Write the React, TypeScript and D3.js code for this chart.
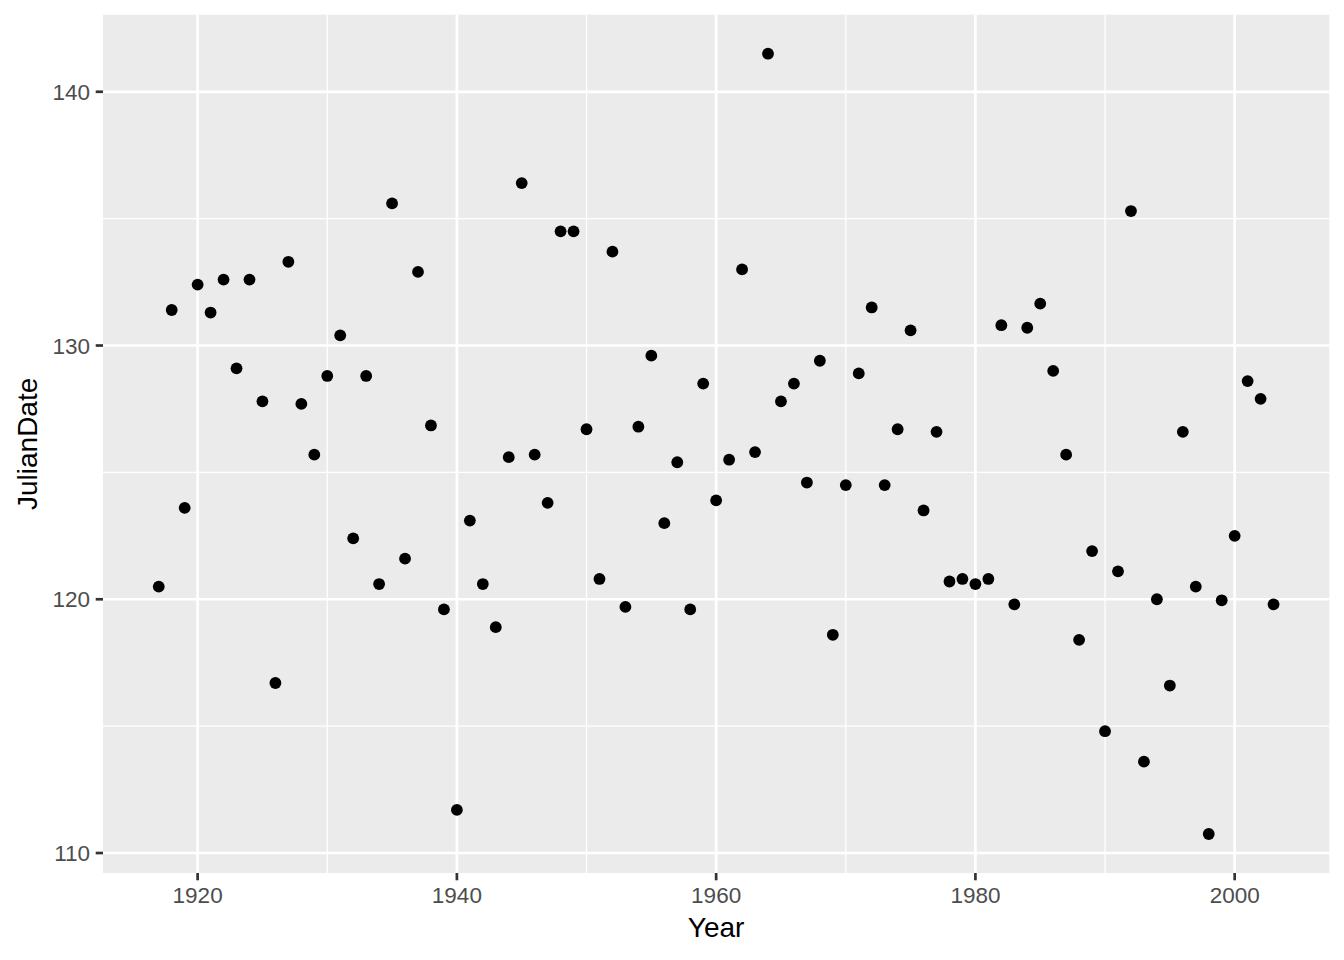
import React from "react";
import * as d3 from "d3";

const years: number[] = [
  1917, 1918, 1919, 1920, 1921, 1922, 1923, 1924, 1925, 1926, 1927, 1928, 1929, 1930,
  1931, 1932, 1933, 1934, 1935, 1936, 1937, 1938, 1939, 1940, 1941, 1942, 1943, 1944,
  1945, 1946, 1947, 1948, 1949, 1950, 1951, 1952, 1953, 1954, 1955, 1956, 1957, 1958,
  1959, 1960, 1961, 1962, 1963, 1964, 1965, 1966, 1967, 1968, 1969, 1970, 1971, 1972,
  1973, 1974, 1975, 1976, 1977, 1978, 1979, 1980, 1981, 1982, 1983, 1984, 1985, 1986,
  1987, 1988, 1989, 1990, 1991, 1992, 1993, 1994, 1995, 1996, 1997, 1998, 1999, 2000,
  2001, 2002, 2003,
];

const julianDates: number[] = [
  120.5, 131.4, 123.6, 132.4, 131.3, 132.6, 129.1, 132.6, 127.8, 116.7, 133.3, 127.7, 125.7, 128.8,
  130.4, 122.4, 128.8, 120.6, 135.6, 121.6, 132.9, 126.85, 119.6, 111.7, 123.1, 120.6, 118.9, 125.6,
  136.4, 125.7, 123.8, 134.5, 134.5, 126.7, 120.8, 133.7, 119.7, 126.8, 129.6, 123.0, 125.4, 119.6,
  128.5, 123.9, 125.5, 133.0, 125.8, 141.5, 127.8, 128.5, 124.6, 129.4, 118.6, 124.5, 128.9, 131.5,
  124.5, 126.7, 130.6, 123.5, 126.6, 120.7, 120.8, 120.6, 120.8, 130.8, 119.8, 130.7, 131.65, 129.0,
  125.7, 118.4, 121.9, 114.8, 121.1, 135.3, 113.6, 120.0, 116.6, 126.6, 120.5, 110.75, 119.96, 122.5,
  128.6, 127.9, 119.8,
];

const xMajor: number[] = [1920, 1940, 1960, 1980, 2000];
const xMinor: number[] = [1930, 1950, 1970, 1990];
const yMajor: number[] = [110, 120, 130, 140];
const yMinor: number[] = [115, 125, 135];

const W = 1344;
const H = 960;
const left = 103;
const right = 1329.3;
const top = 14.7;
const bottom = 873;

function expand(ext: [number, number]): [number, number] {
  const r = ext[1] - ext[0];
  return [ext[0] - r * 0.05, ext[1] + r * 0.05];
}

export default function App() {
  const x = d3
    .scaleLinear()
    .domain(expand(d3.extent(years) as [number, number]))
    .range([left, right]);
  const y = d3
    .scaleLinear()
    .domain(expand(d3.extent(julianDates) as [number, number]))
    .range([bottom, top]);

  const tickFont = 22.5;
  const titleFont = 28;

  return (
    <svg
      width={W}
      height={H}
      style={{ position: "absolute", left: 0, top: 0, display: "block" }}
      fontFamily="'Liberation Sans', Arial, Helvetica, sans-serif"
    >
      <rect x={0} y={0} width={W} height={H} fill="#ffffff" />
      <rect x={left} y={top} width={right - left} height={bottom - top} fill="#EBEBEB" />
      {yMinor.map((v) => (
        <line key={"ym" + v} x1={left} x2={right} y1={y(v)} y2={y(v)} stroke="#ffffff" strokeWidth={1.3} />
      ))}
      {xMinor.map((v) => (
        <line key={"xm" + v} x1={x(v)} x2={x(v)} y1={top} y2={bottom} stroke="#ffffff" strokeWidth={1.3} />
      ))}
      {yMajor.map((v) => (
        <line key={"yM" + v} x1={left} x2={right} y1={y(v)} y2={y(v)} stroke="#ffffff" strokeWidth={2.7} />
      ))}
      {xMajor.map((v) => (
        <line key={"xM" + v} x1={x(v)} x2={x(v)} y1={top} y2={bottom} stroke="#ffffff" strokeWidth={2.7} />
      ))}
      {years.map((yr, i) => (
        <circle key={"p" + yr} cx={x(yr)} cy={y(julianDates[i])} r={5.9} fill="#000000" />
      ))}
      {yMajor.map((v) => (
        <g key={"yt" + v}>
          <line x1={left - 7.3} x2={left} y1={y(v)} y2={y(v)} stroke="#333333" strokeWidth={2.7} />
          <text
            x={left - 13}
            y={y(v)}
            dy="0.36em"
            textAnchor="end"
            fontSize={tickFont}
            fill="#4D4D4D"
          >
            {v}
          </text>
        </g>
      ))}
      {xMajor.map((v) => (
        <g key={"xt" + v}>
          <line x1={x(v)} x2={x(v)} y1={bottom} y2={bottom + 7.3} stroke="#333333" strokeWidth={2.7} />
          <text x={x(v)} y={bottom + 30} textAnchor="middle" fontSize={tickFont} fill="#4D4D4D">
            {v}
          </text>
        </g>
      ))}
      <text x={(left + right) / 2} y={937} textAnchor="middle" fontSize={titleFont} fill="#000000">
        Year
      </text>
      <text
        transform={`translate(37, ${(top + bottom) / 2}) rotate(-90)`}
        textAnchor="middle"
        fontSize={titleFont}
        fill="#000000"
      >
        JulianDate
      </text>
    </svg>
  );
}
